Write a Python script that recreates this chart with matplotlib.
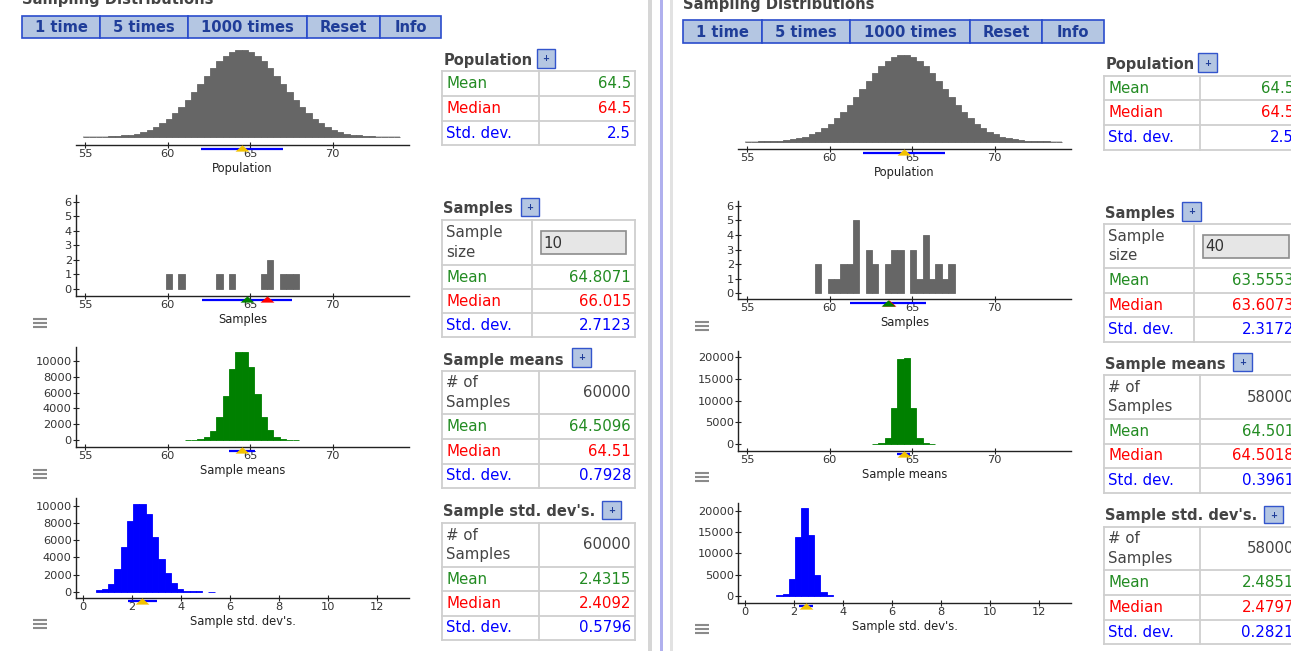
import matplotlib.pyplot as plt
import matplotlib.transforms as mtransforms
from matplotlib.patches import Rectangle

W, H = 1291, 651

# the applet bins everything on fixed grids
value_lo, value_hi, value_nbins = 54.5, 74.5, 52   # population, samples, sample means
sd_lo, sd_hi, sd_nbins = 0.0, 13.333, 52          # sample std. devs

# population shape: relative bar heights for bins 1..50 of the value grid
pop_first_bin = 1
pop_heights = [0.00082, 0.00145, 0.0025, 0.0042, 0.0069, 0.0111, 0.0174, 0.027, 0.040, 0.058,
               0.083, 0.116, 0.157, 0.209, 0.271, 0.344, 0.425, 0.514, 0.607, 0.699,
               0.787, 0.865, 0.929, 0.974, 0.997, 0.997, 0.974, 0.929, 0.865, 0.787,
               0.699, 0.607, 0.514, 0.425, 0.344, 0.271, 0.209, 0.157, 0.116, 0.083,
               0.058, 0.040, 0.027, 0.0174, 0.0111, 0.0069, 0.0042, 0.0025, 0.00145, 0.00082]
pop_stats = [64.5, 64.5, 2.5]   # mean, median, std. dev.

# left run: sample size 10
left_size = 10
left_sample_bins = [14, 16, 22, 24, 29, 30, 32, 33, 34]
left_sample_counts = [1, 1, 1, 1, 1, 2, 1, 1, 1]
left_sample_stats = [64.8071, 66.015, 2.7123]
left_n_samples = 60000
left_mean_bins = [17, 18, 19, 20, 21, 22, 23, 24, 25, 26, 27, 28, 29, 30, 31, 32, 33, 34]
left_mean_counts = [30, 60, 150, 420, 1140, 2870, 5570, 8950, 11100, 11100,
                    9200, 5820, 2870, 1270, 340, 100, 40, 15]
left_mean_stats = [64.5096, 64.51, 0.7928]
left_sd_bins = [2, 3, 4, 5, 6, 7, 8, 9, 10, 11, 12, 13, 14, 15, 16, 17, 18, 19, 20]
left_sd_counts = [150, 300, 860, 2600, 5200, 8250, 10200, 10200, 9030, 6340,
                  3850, 2140, 970, 350, 120, 60, 30, 0, 10]
left_sd_stats = [2.4315, 2.4092, 0.5796]

# right run: sample size 40
right_size = 40
right_sample_bins = [12, 14, 15, 16, 17, 18, 20, 21, 23, 24, 25, 27, 28, 29, 30, 31, 32, 33]
right_sample_counts = [2, 1, 1, 2, 2, 5, 3, 2, 2, 3, 3, 3, 1, 4, 1, 2, 1, 2]
right_sample_stats = [63.5553, 63.6073, 2.3172]
right_n_samples = 58000
right_mean_bins = [21, 22, 23, 24, 25, 26, 27, 28, 29, 30]
right_mean_counts = [20, 200, 1520, 8360, 19390, 19620, 8360, 1520, 200, 20]
right_mean_stats = [64.501, 64.5018, 0.3961]
right_sd_bins = [5, 6, 7, 8, 9, 10, 11, 12, 13]
right_sd_counts = [150, 550, 4000, 13750, 20550, 14300, 5000, 860, 150]
right_sd_stats = [2.4851, 2.4797, 0.2821]

button_labels = ["1 time", "5 times", "1000 times", "Reset", "Info"]
value_ticks = [55, 60, 65, 70]
sd_ticks = [0, 2, 4, 6, 8, 10, 12]

GREEN, RED, BLUE, GRAY_TXT = "#228B22", "#ff0000", "#0000ff", "#444444"
plt.rcParams["font.family"] = "DejaVu Sans"

fig = plt.figure(figsize=(W / 100, H / 100), dpi=100)
bg = fig.add_axes([0, 0, 1, 1])
bg.set_xlim(0, W)
bg.set_ylim(H, 0)
bg.axis("off")


def hist_axes(left, right, top, axis_y, xref, xscale, y0, yscale, xticks, yticks):
    ax = fig.add_axes([left / W, 1 - axis_y / H, (right - left) / W, (axis_y - top) / H])
    ax.set_xlim(xref[1] - (xref[0] - left) / xscale, xref[1] + (right - xref[0]) / xscale)
    ax.set_ylim(-(axis_y - y0) / yscale, (y0 - top) / yscale)
    ax.patch.set_visible(False)
    for s in ["top", "right"]:
        ax.spines[s].set_visible(False)
    for s in ["bottom", "left"]:
        ax.spines[s].set_color("#222222")
        ax.spines[s].set_linewidth(1.0)
    ax.set_xticks(xticks)
    if yticks is None:
        ax.spines["left"].set_visible(False)
        ax.set_yticks([])
    else:
        ax.set_yticks(yticks)
    ax.tick_params(direction="inout", length=5, width=0.8, color="#222222",
                   labelcolor="#333333", labelsize=8.2, pad=0.5)
    return ax


def draw_bars(ax, lo, hi, n, bins, counts, color):
    w = (hi - lo) / n
    keep = [(lo + b * w, c) for b, c in zip(bins, counts) if c > 0]
    ax.bar([k[0] for k in keep], [k[1] for k in keep], width=w, align="edge",
           color=color, edgecolor=color, linewidth=0.6, zorder=2)


def summary_marks(ax, stats, same):
    mean, median, sd = stats
    tr = mtransforms.offset_copy(ax.get_xaxis_transform(), fig=fig, x=0, y=-3.5, units="dots")
    ax.plot([mean - sd, mean + sd], [0, 0], color=BLUE, lw=1.6, transform=tr,
            clip_on=False, zorder=5, solid_capstyle="butt")
    tri = [(-1, -0.45), (1, -0.45), (0, 0.45)]
    tr2 = mtransforms.offset_copy(ax.get_xaxis_transform(), fig=fig, x=0, y=-3.2, units="dots")
    if same:
        ax.plot([mean], [0], marker=tri, ms=10, color="#f2c200", mec="none",
                transform=tr2, clip_on=False, zorder=6)
    else:
        ax.plot([median], [0], marker=tri, ms=10, color=RED, mec="none",
                transform=tr2, clip_on=False, zorder=6)
        ax.plot([mean], [0], marker=tri, ms=10, color="#008000", mec="none",
                transform=tr2, clip_on=False, zorder=7)


def hamburger(x, y):
    for dy in (-4, 0, 4):
        bg.plot([x - 7, x + 7], [y + dy, y + dy], color="#8a8a8a", lw=1.5, solid_capstyle="butt")


def plus_button(l, t, r, b):
    bg.add_patch(Rectangle((l, t), r - l, b - t, facecolor="#b4c6e2", edgecolor="#3355cc", lw=1.0))
    bg.text((l + r) / 2, (t + b) / 2 + 0.5, "+", ha="center", va="center", fontsize=6,
            color="#1f3d99", fontweight="bold")


def table(x0, xdiv, x1, edges, rows, header, hy, plus):
    bg.text(x0 + 1, hy, header, ha="left", va="center", fontsize=10.5, fontweight="bold", color=GRAY_TXT)
    plus_button(*plus)
    for y in edges:
        bg.plot([x0, x1], [y, y], color="#cfcfcf", lw=1.3)
    for x in (x0, xdiv, x1):
        bg.plot([x, x], [edges[0], edges[-1]], color="#cfcfcf", lw=1.3)
    for (label, value, color), ta, tb in zip(rows, edges[:-1], edges[1:]):
        yc = (ta + tb) / 2
        if "\n" in label:
            l1, l2 = label.split("\n")
            bg.text(x0 + 4, yc - 9.7, l1, ha="left", va="center", fontsize=10.8, color=color)
            bg.text(x0 + 4, yc + 9.7, l2, ha="left", va="center", fontsize=10.8, color=color)
        else:
            bg.text(x0 + 4, yc, label, ha="left", va="center", fontsize=10.8, color=color)
        if value is None:
            continue
        if isinstance(value, tuple):   # input box holding the sample size
            bx0, bx1 = xdiv + 8.4, x1 - 9.3
            bg.add_patch(Rectangle((bx0, yc - 11.7), bx1 - bx0, 23.3, facecolor="#e6e6e6",
                                   edgecolor="#8c8c8c", lw=1.2))
            bg.text(bx0 + 3, yc + 0.5, value[0], ha="left", va="center", fontsize=10.8, color="#333333")
        else:
            bg.text(x1 - 4, yc, value, ha="right", va="center", fontsize=10.8, color=color)


def stat_rows(stats):
    return [("Mean", str(stats[0]), GREEN), ("Median", str(stats[1]), RED),
            ("Std. dev.", str(stats[2]), BLUE)]


def panel(dx, title_y, btn_edges, btn_y, ham_x, geo, data, tables):
    # title, cut off by the top of the screenshot
    bg.text(btn_edges[0], title_y, "Sampling Distributions", ha="left", va="baseline",
            fontsize=10.6, fontweight="bold", color=GRAY_TXT)
    for lab, l, r in zip(button_labels, btn_edges[:-1], btn_edges[1:]):
        bg.add_patch(Rectangle((l, btn_y[0]), r - l, btn_y[1] - btn_y[0], facecolor="#b4c6e2",
                               edgecolor="#2a4ccc", lw=1.2))
        bg.text((l + r) / 2, (btn_y[0] + btn_y[1]) / 2 + 1, lab, ha="center", va="center",
                fontsize=10.6, fontweight="bold", color="#1f3d99")

    left, right = 76 + dx, 409 + dx
    names = ["Population", "Samples", "Sample means", "Sample std. dev's."]
    for i, (g, d) in enumerate(zip(geo, data)):
        top, axis_y, y0, yscale, yticks = g
        if i < 3:
            ax = hist_axes(left, right, top, axis_y, (85 + dx, 55), 16.5, y0, yscale, value_ticks, yticks)
            lo, hi, n = value_lo, value_hi, value_nbins
        else:
            ax = hist_axes(left, right, top, axis_y, (83 + dx, 0), 24.47, y0, yscale, sd_ticks, yticks)
            lo, hi, n = sd_lo, sd_hi, sd_nbins
        bins, counts, color, stats, same = d
        if i == 0:
            w = (hi - lo) / n
            ax.hlines(0, lo + bins[0] * w, lo + (bins[-1] + 1) * w, color="#bdbdbd", lw=1.2, zorder=1)
        draw_bars(ax, lo, hi, n, bins, counts, color)
        summary_marks(ax, stats, same)
        bg.text((left + right) / 2, axis_y + 23.5, names[i], ha="center", va="center",
                fontsize=8.3, color="#222222")
        if i > 0:
            hamburger(ham_x, axis_y + 26.5)

    for t in tables:
        table(*t)


pop_bins = [pop_first_bin + k for k in range(len(pop_heights))]

# ---- left panel
panel(0, 4, [22, 100, 188.3, 307.3, 380, 441], (16, 38), 40,
      [(40, 145, 137, 87.3, None),
       (195, 296, 289, 14.55, [0, 1, 2, 3, 4, 5, 6]),
       (347, 447, 440, 0.0079, [0, 2000, 4000, 6000, 8000, 10000]),
       (498, 597.7, 591.7, 0.00857, [0, 2000, 4000, 6000, 8000, 10000])],
      [(pop_bins, pop_heights, "#666666", pop_stats, True),
       (left_sample_bins, left_sample_counts, "#666666", left_sample_stats, False),
       (left_mean_bins, left_mean_counts, "#008000", left_mean_stats, True),
       (left_sd_bins, left_sd_counts, BLUE, left_sd_stats, True)],
      [(442.3, 538.7, 635, [71.3, 96.3, 120.7, 145.3], stat_rows(pop_stats),
        "Population", 60, (536.5, 49, 555, 67.5)),
       (442.3, 532.3, 635, [220, 265, 289.3, 313.3, 337.3],
        [("Sample\nsize", (str(left_size),), GRAY_TXT)] + stat_rows(left_sample_stats),
        "Samples", 209, (520.7, 197.7, 539, 216)),
       (442.3, 538.7, 635, [370.7, 414.3, 439, 463.7, 488.3],
        [("# of\nSamples", str(left_n_samples), GRAY_TXT)] + stat_rows(left_mean_stats),
        "Sample means", 361, (571.7, 348.3, 590.7, 366.7)),
       (442.3, 538.7, 635, [522.7, 566.7, 591.3, 615.7, 640],
        [("# of\nSamples", str(left_n_samples), GRAY_TXT)] + stat_rows(left_sd_stats),
        "Sample std. dev's.", 511.7, (602.3, 500.7, 621.3, 518.7))])

# ---- right panel
panel(662, 9, [683.3, 761.7, 850, 970, 1042.3, 1104], (20, 43), 702,
      [(45, 149, 141.7, 87.0, None),
       (200.7, 299.3, 293.3, 14.6, [0, 1, 2, 3, 4, 5, 6]),
       (351, 450.7, 444.3, 0.00438, [0, 5000, 10000, 15000, 20000]),
       (502.7, 602.7, 596, 0.004265, [0, 5000, 10000, 15000, 20000])],
      [(pop_bins, pop_heights, "#666666", pop_stats, True),
       (right_sample_bins, right_sample_counts, "#666666", right_sample_stats, False),
       (right_mean_bins, right_mean_counts, "#008000", right_mean_stats, True),
       (right_sd_bins, right_sd_counts, BLUE, right_sd_stats, True)],
      [(1104.3, 1200.3, 1298, [76, 100.3, 125, 149.7], stat_rows(pop_stats),
        "Population", 64.3, (1198.3, 53.3, 1217, 71.7)),
       (1104.3, 1194.3, 1298, [224.3, 268.3, 292.7, 317.3, 341.7],
        [("Sample\nsize", (str(right_size),), GRAY_TXT)] + stat_rows(right_sample_stats),
        "Samples", 213.3, (1182.3, 201.7, 1200.7, 220.7)),
       (1104.3, 1200.3, 1298, [375.3, 419, 443.7, 468.3, 492.7],
        [("# of\nSamples", str(right_n_samples), GRAY_TXT)] + stat_rows(right_mean_stats),
        "Sample means", 364.3, (1233.3, 352.7, 1252.3, 371)),
       (1104.3, 1200.3, 1298, [526.7, 570.3, 595.3, 620, 644.3],
        [("# of\nSamples", str(right_n_samples), GRAY_TXT)] + stat_rows(right_sd_stats),
        "Sample std. dev's.", 515.7, (1264.3, 505.7, 1283.3, 523.3))])

# divider between the two applet windows
bg.add_patch(Rectangle((648, 0), 4, H, facecolor="#d6d6d6", edgecolor="none"))
bg.add_patch(Rectangle((660, 0), 3, H, facecolor="#b0b0ee", edgecolor="none"))
bg.add_patch(Rectangle((670, 0), 3, H, facecolor="#e2e2e2", edgecolor="none"))

fig.savefig("out.png", dpi=100)
